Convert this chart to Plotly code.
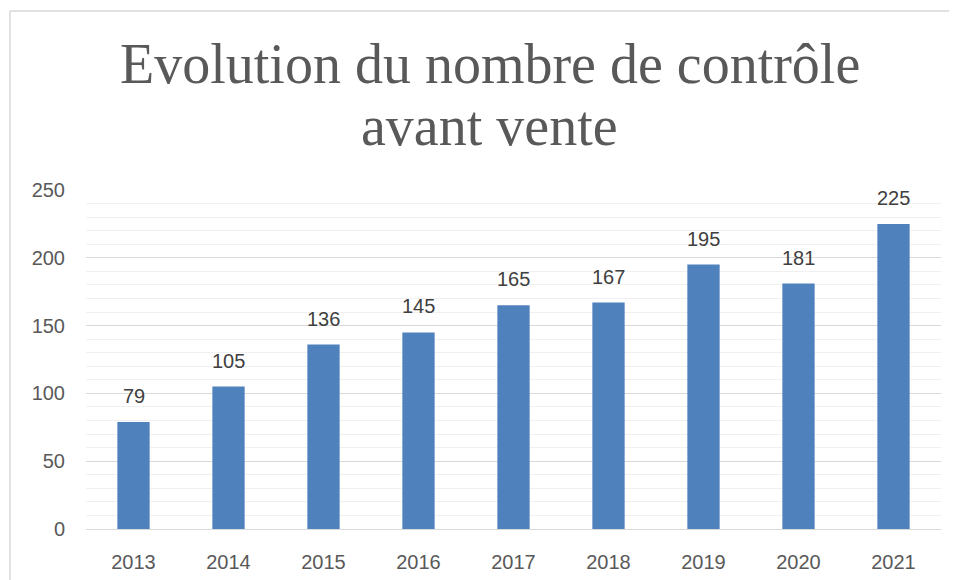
import plotly.graph_objects as go

years = ["2013", "2014", "2015", "2016", "2017", "2018", "2019", "2020", "2021"]
values = [79, 105, 136, 145, 165, 167, 195, 181, 225]
y_ticks = [0, 50, 100, 150, 200, 250]
title_lines = ["Evolution du nombre de contrôle", "avant vente"]

PLOT_H = 339.0
PLOT_W = 855.0

fig = go.Figure()
fig.add_trace(go.Bar(
    x=years, y=values, marker=dict(color="#4F81BD", line=dict(width=0)),
    hoverinfo="x+y",
))

# data labels (x given as category index so the category axis places them on the bars)
for i, v in enumerate(values):
    fig.add_annotation(x=i, y=v, xref="x", yref="y", text=str(v), showarrow=False, yanchor="middle",
                       yshift=26, font=dict(family="Liberation Sans, Arial, sans-serif", size=20, color="#404040"))

title_y = [1 + 93 / PLOT_H, 1 + 31 / PLOT_H]
for txt, ty in zip(title_lines, title_y):
    fig.add_annotation(xref="paper", yref="paper", x=0.4725, y=ty, xanchor="center", yanchor="bottom",
                       text=txt, showarrow=False,
                       font=dict(family="Liberation Serif, DejaVu Serif, serif", size=56, color="#595959"))

top_border = 1 + 179 / PLOT_H
left_border = -76 / PLOT_W

tickfont = dict(family="Liberation Sans, Arial, sans-serif", size=20, color="#595959")

fig.update_layout(
    width=949, height=572,
    paper_bgcolor="white", plot_bgcolor="white",
    margin=dict(l=78, r=16, t=182, b=51, autoexpand=False),
    bargap=0.66,
    showlegend=False,
    xaxis=dict(type="category", categoryorder="array", categoryarray=years,
               range=[-0.5, len(years) - 0.5], autorange=False, automargin=False,
               showgrid=False, showline=True, linecolor="#D9D9D9", linewidth=1,
               ticks="", tickfont=tickfont, ticklabelstandoff=15),
    yaxis=dict(range=[0, 250], autorange=False, automargin=False, tickvals=y_ticks,
               showgrid=True, gridcolor="#D9D9D9", gridwidth=1,
               zeroline=False, showline=False, ticks="",
               minor=dict(dtick=10, showgrid=True, gridcolor="#F0F0F0", gridwidth=1),
               tickfont=tickfont, ticklabelstandoff=20),
    shapes=[
        dict(type="line", xref="paper", yref="paper", x0=left_border, x1=1.1, y0=top_border, y1=top_border,
             line=dict(color="#D9D9D9", width=1.5)),
        dict(type="line", xref="paper", yref="paper", x0=left_border, x1=left_border, y0=top_border, y1=-0.3,
             line=dict(color="#D9D9D9", width=1.5)),
    ],
)

fig.write_html("out.html")
